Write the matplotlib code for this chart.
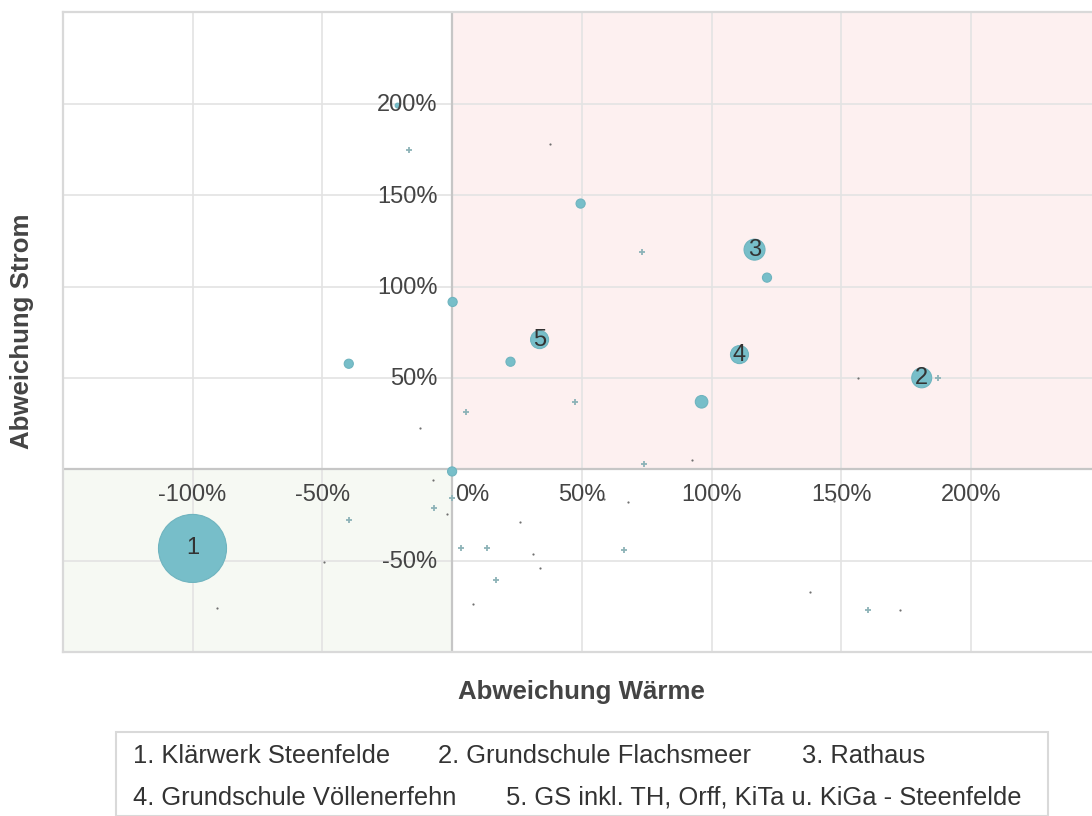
import matplotlib
matplotlib.use('Agg')
import matplotlib.pyplot as plt
from matplotlib.patches import Rectangle

plt.rcParams['font.family'] = ['Liberation Sans', 'DejaVu Sans']

# DATA (Abweichung in %)
bubble_x = [-100.0, 180.9, 116.5, 110.7, 33.7, 49.5, 121.3, 0.2, 22.5, -39.8, 96.1, 0.0, -21.0]
bubble_y = [-43.2, 50.1, 120.2, 62.8, 71.0, 145.4, 104.9, 91.6, 58.9, 57.8, 37.0, -1.1, 199.0]
bubble_size = [100, 8.6, 9.5, 7.0, 7.0, 1.8, 1.8, 1.8, 1.8, 1.8, 3.4, 1.8, 0.5]
bubble_label = ['1', '2', '3', '4', '5', '', '', '', '', '', '', '', '']

plus_x = [-16.7, 73.2, 5.5, 47.2, 74.1, 187.2, 0.0, -6.8, -39.8, 3.4, 13.3, 17.1, 66.4, 160.2]
plus_y = [174.7, 119.1, 31.5, 37.0, 3.1, 50.1, -15.5, -20.9, -27.5, -42.8, -42.8, -60.3, -43.9, -76.7]

dot_x = [37.8, 156.4, 92.3, -12.2, -7.5, -2.1, -49.2, -90.7, 26.2, 31.0, 34.0, 7.9, 67.8, 58.5, 137.8, 172.4, 147.3]
dot_y = [178.1, 50.1, 5.3, 22.8, -5.8, -24.2, -50.4, -75.6, -28.6, -46.1, -53.7, -73.4, -17.7, -16.4, -66.8, -76.7, -17.3]

x_ticks = [-100, -50, 0, 50, 100, 150, 200]
y_ticks = [200, 150, 100, 50, -50]

legend_rows = [
    ['1. Klärwerk Steenfelde', '2. Grundschule Flachsmeer', '3. Rathaus'],
    ['4. Grundschule Völlenerfehn', '5. GS inkl. TH, Orff, KiTa u. KiGa - Steenfelde'],
]

W, H = 1092, 816
fig = plt.figure(figsize=(W / 100, H / 100), dpi=100)
# axes box in pixels: left 62.7, top 12.3, bottom 652.3, right runs past the image edge
ax = fig.add_axes([62.7 / W, (H - 652.3) / H, 1038.4 / W, 640 / H])
ax.set_xlim(-150, 250)
ax.set_ylim(-100, 250)

# quadrant shading
ax.add_patch(Rectangle((0, 0), 250, 250, facecolor='#FDF0F0', edgecolor='none', zorder=0))
ax.add_patch(Rectangle((-150, -100), 150, 100, facecolor='#F6F9F3', edgecolor='none', zorder=0))

# grid
ax.set_xticks([-100, -50, 50, 100, 150, 200])
ax.set_yticks([-50, 50, 100, 150, 200])
ax.grid(True, color='#E3E3E3', lw=1.2, zorder=1)
ax.set_axisbelow(True)
ax.tick_params(length=0, labelbottom=False, labelleft=False)
for sp in ax.spines.values():
    sp.set_color('#D9D9D9')
    sp.set_linewidth(1.6)
ax.axhline(0, color='#C6C6C6', lw=1.6, zorder=2)
ax.axvline(0, color='#C6C6C6', lw=1.6, zorder=2)

# points
ax.scatter(dot_x, dot_y, s=2.5, color='#707070', linewidths=0, zorder=3)
ax.scatter(plus_x, plus_y, s=22, marker='+', color='#8DB3B8', linewidths=1.3, zorder=3)
ax.scatter(bubble_x, bubble_y, s=[v * 24 for v in bubble_size], color='#77BEC9',
           edgecolors='#6FB4BF', linewidths=0.8, zorder=4)
for x, y, lab in zip(bubble_x, bubble_y, bubble_label):
    if lab:
        ax.text(x, y, lab, ha='center', va='center', fontsize=17, color='#333333', zorder=6)

# tick labels sit on the zero lines
for v in x_ticks:
    dx = 14.5 if v == 0 else 0
    ax.annotate(f'{v}%', (v, 0), xytext=(dx, -18.5), textcoords='offset points',
                ha='center', va='center', fontsize=17, color='#444444', zorder=5)
for v in y_ticks:
    ax.annotate(f'{v}%', (0, v), xytext=(-10.5, -1), textcoords='offset points',
                ha='right', va='center', fontsize=17, color='#444444', zorder=5)

# axis titles
fig.text(581 / W, 1 - 692 / H, 'Abweichung Wärme', ha='center', va='center',
         fontsize=18.6, fontweight='bold', color='#444444')
fig.text(22 / W, 1 - 331 / H, 'Abweichung Strom', ha='center', va='center',
         rotation=90, fontsize=18.6, fontweight='bold', color='#444444')

# legend box
fig.add_artist(Rectangle((115.8 / W, 0), (1047.5 - 115.8) / W, (H - 731.7) / H,
                         transform=fig.transFigure, facecolor='white',
                         edgecolor='#D9D9D9', lw=1.5))
row_y = [756, 798]
row_x = [[133, 438, 802], [133, 506]]
for r, names in enumerate(legend_rows):
    for i, name in enumerate(names):
        fig.text(row_x[r][i] / W, 1 - row_y[r] / H, name, ha='left', va='center',
                 fontsize=18.4, color='#333333')

fig.savefig('out.png', dpi=100)
